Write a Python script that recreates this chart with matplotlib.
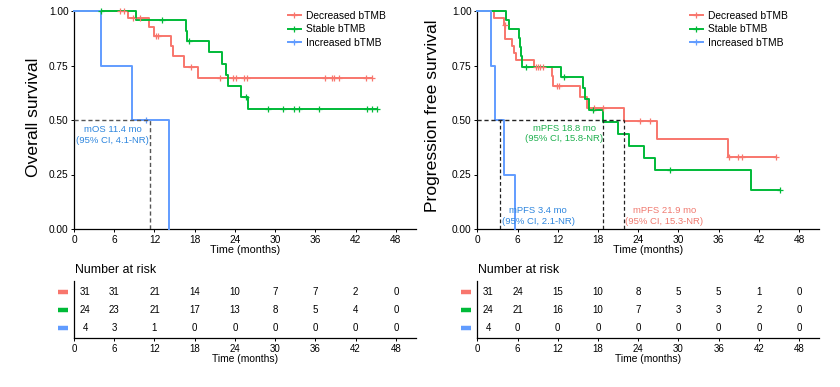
import numpy as np
import matplotlib
matplotlib.use("Agg")
import matplotlib.pyplot as plt
from matplotlib.lines import Line2D
import matplotlib.transforms as mtransforms

plt.rcParams['font.family'] = ['Liberation Sans', 'DejaVu Sans']

# ---------------- data ----------------
groups = ["Decreased bTMB", "Stable bTMB", "Increased bTMB"]
colors = ["#F8766D", "#00BA38", "#619CFF"]

# Overall survival: step times / survival / censor times
os_dec_t = [0, 8.1, 11.2, 12.0, 14.5, 14.8, 16.4, 18.5]
os_dec_s = [1.0, 0.968, 0.927, 0.885, 0.838, 0.792, 0.743, 0.692]
os_dec_c = [6.9, 7.4, 8.8, 9.8, 12.3, 12.6, 17.5, 21.7, 23.7, 24.2, 25.3, 25.8,
            37.4, 38.5, 38.8, 39.5, 43.5, 44.5]

os_stab_t = [0, 9.3, 16.7, 16.9, 20.2, 22.0, 22.6, 23.0, 24.9, 25.9]
os_stab_s = [1.0, 0.958, 0.91, 0.862, 0.81, 0.758, 0.708, 0.658, 0.605, 0.552]
os_stab_c = [4.1, 13.1, 17.2, 25.6, 28.9, 31.2, 32.8, 33.5, 36.5, 43.7, 44.5, 45.2]

os_inc_t = [0, 4.1, 8.7, 14.2]
os_inc_s = [1.0, 0.75, 0.5, 0.0]
os_inc_c = [10.7]

# Progression free survival
pfs_dec_t = [0, 2.5, 4.0, 4.2, 5.2, 5.4, 5.8, 8.5, 11.1, 11.3, 15.3, 16.3, 21.9, 26.8, 37.4]
pfs_dec_s = [1.0, 0.968, 0.935, 0.871, 0.839, 0.806, 0.774, 0.741, 0.703, 0.657,
             0.604, 0.556, 0.495, 0.411, 0.329]
pfs_dec_c = [4.1, 8.7, 9.0, 9.4, 9.8, 11.9, 12.2, 17.4, 18.8, 24.3, 25.8,
             37.5, 38.9, 39.5, 44.5]

pfs_stab_t = [0, 4.3, 4.8, 6.2, 6.35, 6.5, 6.6, 12.5, 15.8, 16.0, 16.6, 18.8,
              21.0, 22.6, 24.8, 26.5, 40.8]
pfs_stab_s = [1.0, 0.958, 0.917, 0.875, 0.833, 0.792, 0.745, 0.697, 0.645, 0.597,
              0.545, 0.492, 0.435, 0.38, 0.326, 0.272, 0.181]
pfs_stab_c = [7.3, 13.0, 17.2, 28.8, 45.1]

pfs_inc_t = [0, 2.0, 2.6, 4.0, 5.6]
pfs_inc_s = [1.0, 0.75, 0.5, 0.25, 0.0]
pfs_inc_c = []

# medians
os_median = 11.4
pfs_medians = [21.9, 18.8, 3.4]  # dec, stab, inc

# number at risk
risk_times = [0, 6, 12, 18, 24, 30, 36, 42, 48]
os_risk_dec = [31, 31, 21, 14, 10, 7, 7, 2, 0]
os_risk_stab = [24, 23, 21, 17, 13, 8, 5, 4, 0]
os_risk_inc = [4, 3, 1, 0, 0, 0, 0, 0, 0]
pfs_risk_dec = [31, 24, 15, 10, 8, 5, 5, 1, 0]
pfs_risk_stab = [24, 21, 16, 10, 7, 3, 3, 2, 0]
pfs_risk_inc = [4, 0, 0, 0, 0, 0, 0, 0, 0]

# ---------------- figure ----------------
W, H = 840, 387
fig = plt.figure(figsize=(W / 100, H / 100), dpi=100)


def fx(px):
    return px / W


def fy(py):
    return 1 - py / H


XMAX = 51.0
ax1 = fig.add_axes([fx(74), fy(229), fx(342), (229 - 11) / H])
ax2 = fig.add_axes([fx(477.3), fy(229), fx(342), (229 - 11) / H])
r1 = fig.add_axes([fx(74), fy(338), fx(342), 57 / H])
r2 = fig.add_axes([fx(477.3), fy(338), fx(342), 57 / H])


def surv_at(t, times, surv):
    i = np.searchsorted(times, t, side='right') - 1
    return surv[max(i, 0)]


def draw_km(ax, series):
    for (t, s, c), col in zip(series, colors):
        t = np.asarray(t, float)
        s = np.asarray(s, float)
        end = max(t[-1], max(c) if len(c) else 0)
        ax.step(np.append(t, end), np.append(s, s[-1]), where='post',
                color=col, lw=1.4, clip_on=False, zorder=3)
        if len(c):
            cy = [surv_at(x, t, s) for x in c]
            ax.plot(c, cy, ls='none', marker='+', ms=5, mew=0.9, color=col,
                    clip_on=False, zorder=4)


def style_axes(ax):
    ax.set_xlim(0, XMAX)
    ax.set_ylim(0, 1)
    ax.set_xticks(risk_times)
    ax.set_yticks([0, 0.25, 0.5, 0.75, 1.0])
    ax.set_yticklabels(["0.00", "0.25", "0.50", "0.75", "1.00"])
    for sp in ['top', 'right']:
        ax.spines[sp].set_visible(False)
    for sp in ['left', 'bottom']:
        ax.spines[sp].set_linewidth(0.9)
    ax.tick_params(labelsize=7.3, length=2.5, width=0.7, pad=1.5, colors='black')
    ax.set_xlabel("Time (months)", fontsize=7.8, labelpad=0.5)


def add_legend(ax, xanchor):
    handles = [Line2D([0], [0], color=c, lw=1.4, marker='+', ms=5, mew=0.9) for c in colors]
    ax.legend(handles, groups, loc='upper left', bbox_to_anchor=(xanchor, 1.0),
              frameon=False, fontsize=7.4, handlelength=1.25, handletextpad=0.5,
              labelspacing=0.34, borderpad=0, borderaxespad=0)


# ---- OS panel ----
draw_km(ax1, [(os_dec_t, os_dec_s, os_dec_c),
              (os_stab_t, os_stab_s, os_stab_c),
              (os_inc_t, os_inc_s, os_inc_c)])
style_axes(ax1)
ax1.plot([0, os_median], [0.5, 0.5], color='#555555', lw=1.0, ls=(0, (3, 2)), zorder=5)
ax1.plot([os_median, os_median], [0, 0.5], color='#555555', lw=1.0, ls=(0, (3, 2)), zorder=5)
ax1.text(5.8, 0.43, "mOS 11.4 mo\n(95% CI, 4.1-NR)", color="#2E86DE", fontsize=6.8,
         ha='center', va='center', linespacing=1.25)
add_legend(ax1, 0.625)
fig.text(fx(33), fy(117.5), "Overall survival", rotation=90, fontsize=12.6,
         ha='center', va='center')

# ---- PFS panel ----
draw_km(ax2, [(pfs_dec_t, pfs_dec_s, pfs_dec_c),
              (pfs_stab_t, pfs_stab_s, pfs_stab_c),
              (pfs_inc_t, pfs_inc_s, pfs_inc_c)])
style_axes(ax2)
dcol = '#222222'
ax2.plot([0, max(pfs_medians)], [0.5, 0.5], color=dcol, lw=1.0, ls=(0, (3, 2)), zorder=5)
for m in pfs_medians:
    ax2.plot([m, m], [0, 0.5], color=dcol, lw=0.9, ls=(0, (3, 2)), zorder=5)
ax2.text(13.0, 0.438, "mPFS 18.8 mo\n(95% CI, 15.8-NR)", color="#1FB04F", fontsize=6.8,
         ha='center', va='center', linespacing=1.25)
ax2.text(9.1, 0.06, "mPFS 3.4 mo\n(95% CI, 2.1-NR)", color="#2E86DE", fontsize=6.8,
         ha='center', va='center', linespacing=1.25)
ax2.text(27.9, 0.06, "mPFS 21.9 mo\n(95% CI, 15.3-NR)", color="#F07A70", fontsize=6.8,
         ha='center', va='center', linespacing=1.25)
add_legend(ax2, 0.621)
fig.text(fx(433), fy(115.5), "Progression free survival", rotation=90, fontsize=12.6,
         ha='center', va='center')

# ---- risk tables ----
first_col_x = 1.65


def draw_risk(ax, rows, title_px):
    ax.set_xlim(0, XMAX)
    ax.set_ylim(0.44, 3.61)
    for sp in ['top', 'right']:
        ax.spines[sp].set_visible(False)
    for sp in ['left', 'bottom']:
        ax.spines[sp].set_linewidth(0.9)
    ax.set_yticks([])
    ax.set_xticks(risk_times)
    ax.tick_params(labelsize=7.0, length=2.5, width=0.7, pad=1.5)
    ax.set_xlabel("Time (months)", fontsize=7.4, labelpad=0.5)
    trans = mtransforms.blended_transform_factory(ax.transAxes, ax.transData)
    for yrow, (vals, col) in zip([3, 2, 1], zip(rows, colors)):
        for t, v in zip(risk_times, vals):
            xx = first_col_x if t == 0 else t
            ax.text(xx, yrow, str(v), ha='center', va='center', fontsize=7.0)
        ax.plot([-0.047, -0.018], [yrow, yrow], transform=trans, color=col, lw=3.2,
                solid_capstyle='butt', clip_on=False)
    fig.text(fx(title_px), fy(270), "Number at risk", fontsize=8.9, ha='left', va='center')


draw_risk(r1, [os_risk_dec, os_risk_stab, os_risk_inc], 75)
draw_risk(r2, [pfs_risk_dec, pfs_risk_stab, pfs_risk_inc], 478)

fig.savefig("out.png", dpi=100)
